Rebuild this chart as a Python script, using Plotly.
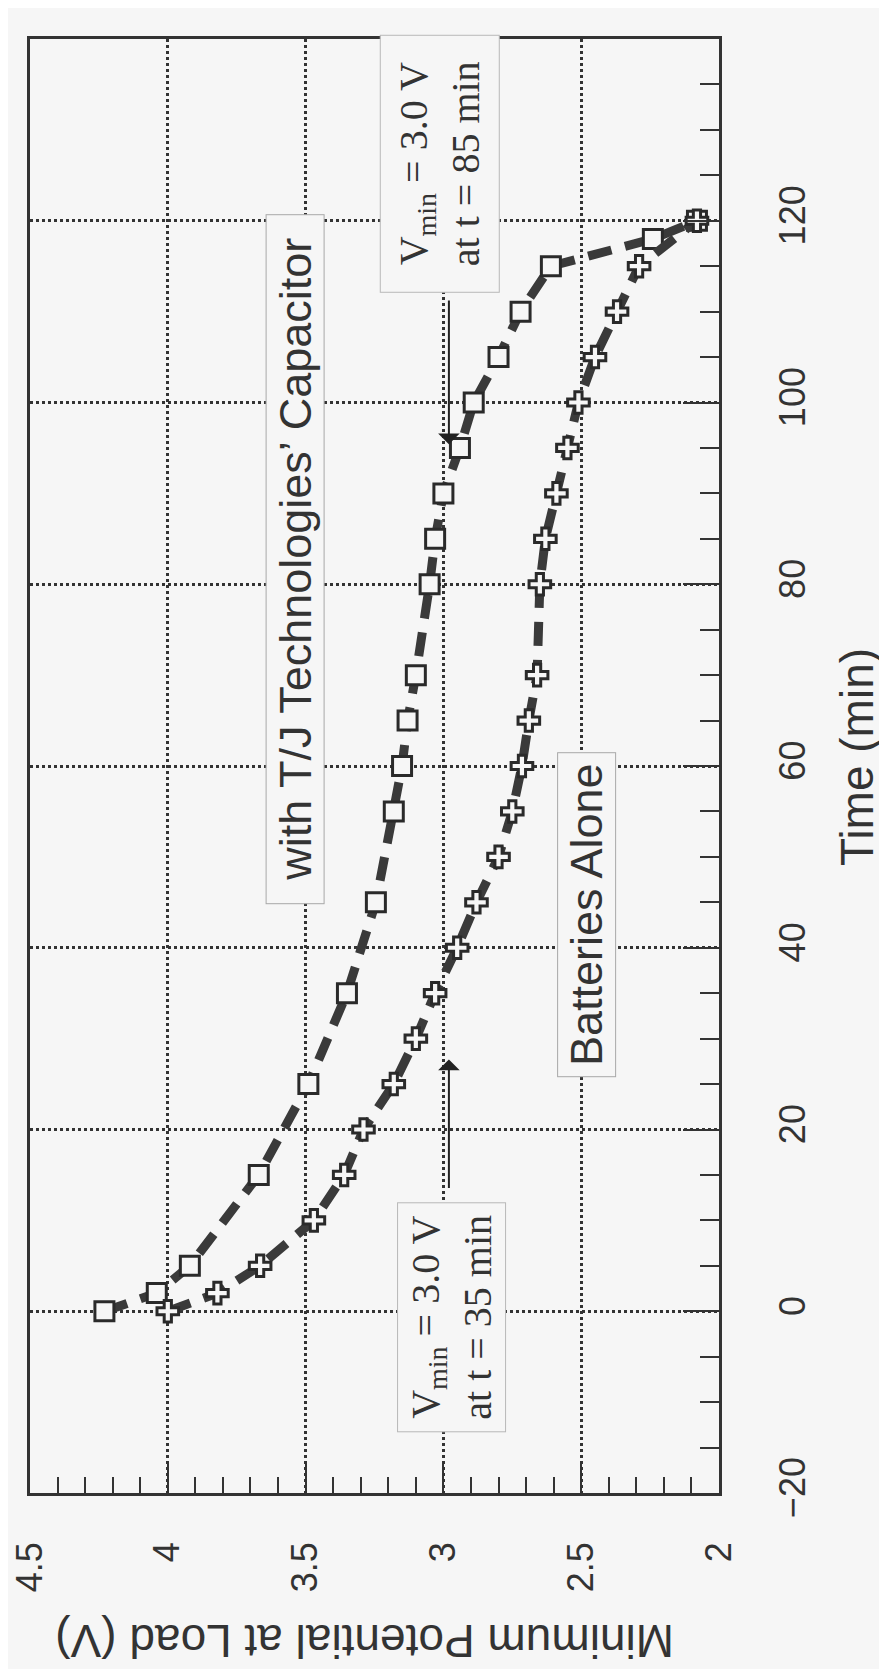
import plotly.graph_objects as go

# ---- data ----
cap_time = [0, 2, 5, 15, 25, 35, 45, 55, 60, 65, 70, 80, 85, 90, 95, 100, 105, 110, 115, 118, 120]
cap_volt = [4.23, 4.04, 3.92, 3.67, 3.49, 3.35, 3.245, 3.18, 3.15, 3.13, 3.10, 3.05, 3.03, 3.0, 2.94,
            2.89, 2.80, 2.72, 2.61, 2.24, 2.08]

bat_time = [0, 2, 5, 10, 15, 20, 25, 30, 35, 40, 45, 50, 55, 60, 65, 70, 80, 85, 90, 95, 100, 105, 110, 115, 120]
bat_volt = [4.0, 3.82, 3.665, 3.47, 3.36, 3.29, 3.18, 3.10, 3.03, 2.95, 2.88, 2.80, 2.75, 2.715, 2.69,
            2.66, 2.65, 2.63, 2.59, 2.55, 2.51, 2.45, 2.37, 2.29, 2.08]

volt_range = [4.5, 2.0]
time_range = [-20, 140]
volt_ticks = [2, 2.5, 3, 3.5, 4, 4.5]
time_ticks = [-20, 0, 20, 40, 60, 80, 100, 120, 140]

# ---- layout geometry ----
W, H = 887, 1669
L, R, T, B = 22, 711, 31, 1485
PW, PH = R - L, B - T
BG = "#f6f6f6"
INK = "#333333"
SANS = "Liberation Sans, Arial, sans-serif"
SERIF = "Liberation Serif, Times New Roman, serif"


def xp(px):
    return (px - L) / PW


def yp(py):
    return (B - py) / PH


fig = go.Figure()

fig.add_trace(go.Scatter(
    x=cap_volt, y=cap_time, mode="lines+markers", name="with capacitor",
    line=dict(color="#3a3a3a", width=9, dash="24px,14px"),
    marker=dict(symbol="square", size=19, color=BG, line=dict(color="#2a2a2a", width=3)),
))
fig.add_trace(go.Scatter(
    x=bat_volt, y=bat_time, mode="lines+markers", name="batteries alone",
    line=dict(color="#3a3a3a", width=9, dash="24px,14px"),
    marker=dict(symbol="cross", size=18, color=BG, line=dict(color="#2a2a2a", width=3)),
))

axis_common = dict(
    showline=True, linewidth=2.5, linecolor=INK, mirror=True, automargin=False,
    showgrid=True, gridcolor=INK, gridwidth=2.5, griddash="dot",
    zeroline=False, ticks="inside", tickwidth=2, tickcolor=INK,
    tickfont=dict(family=SANS, size=36, color=INK), tickangle=-90,
)

fig.update_xaxes(
    **axis_common, range=volt_range, tickvals=volt_ticks,
    ticktext=[("%g" % v) for v in volt_ticks], ticklen=32,
    minor=dict(ticks="inside", ticklen=16, tickwidth=2, tickcolor=INK, dtick=0.1, showgrid=False),
    ticklabelstandoff=32,
)
fig.update_yaxes(
    **axis_common, range=time_range, tickvals=time_ticks, side="right", ticklen=36,
    minor=dict(ticks="inside", ticklen=19, tickwidth=2, tickcolor=INK, dtick=5, showgrid=False),
    ticklabelstandoff=40,
)

annotations = [
    # axis titles
    dict(text="Minimum Potential at Load (V)", xref="paper", yref="paper",
         x=xp(357), y=yp(1633), textangle=180, showarrow=False,
         font=dict(family=SANS, size=46, color=INK), xanchor="center", yanchor="middle"),
    dict(text="Time (min)", xref="paper", yref="paper",
         x=xp(849), y=yp(749), textangle=-90, showarrow=False,
         font=dict(family=SANS, size=46, color=INK), xanchor="center", yanchor="middle"),
    # series labels
    dict(text="with T/J Technologies’ Capacitor", xref="x", yref="y", x=3.537, y=82.8,
         textangle=-90, showarrow=False, font=dict(family=SANS, size=45, color=INK),
         bgcolor=BG, bordercolor="#a8a8a8", borderwidth=1, borderpad=0, width=688, height=57),
    dict(text="Batteries Alone", xref="x", yref="y", x=2.482, y=43.6,
         textangle=-90, showarrow=False, font=dict(family=SANS, size=45, color=INK),
         bgcolor=BG, bordercolor="#a8a8a8", borderwidth=1, borderpad=0, width=323, height=57),
    # callout boxes
    dict(text="V<sub>min</sub> = 3.0 V<br>at t = 85 min", xref="x", yref="y", x=3.015, y=126.3,
         textangle=-90, showarrow=False, font=dict(family=SERIF, size=40, color=INK),
         bgcolor=BG, bordercolor="#b8b8b8", borderwidth=1, borderpad=0, width=256, height=118,
         align="center"),
    dict(text="V<sub>min</sub> = 3.0 V<br>at t = 35 min", xref="x", yref="y", x=2.970, y=-0.7,
         textangle=-90, showarrow=False, font=dict(family=SERIF, size=40, color=INK),
         bgcolor=BG, bordercolor="#b8b8b8", borderwidth=1, borderpad=0, width=228, height=107,
         align="center"),
    # arrows
    dict(text="", xref="x", yref="y", axref="x", ayref="y", x=2.98, y=95.4, ax=2.98, ay=111.4,
         showarrow=True, arrowhead=1, arrowsize=1.8, arrowwidth=2, arrowcolor="#222222"),
    dict(text="", xref="x", yref="y", axref="x", ayref="y", x=2.98, y=27.7, ax=2.98, ay=13.4,
         showarrow=True, arrowhead=1, arrowsize=1.8, arrowwidth=2, arrowcolor="#222222"),
]

fig.update_layout(
    width=W, height=H, margin=dict(l=L, r=W - R, t=T, b=H - B),
    paper_bgcolor=BG, plot_bgcolor=BG, showlegend=False,
    annotations=annotations,
)

fig.write_html("out.html")
